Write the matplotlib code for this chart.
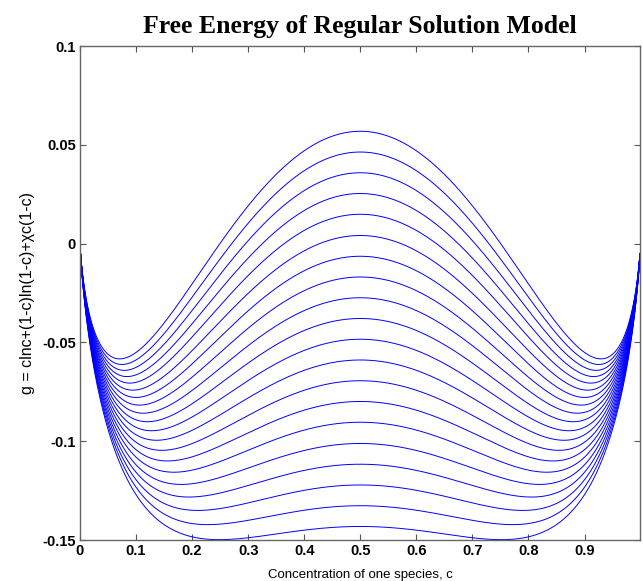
import numpy as np
import matplotlib
matplotlib.use("Agg")
import matplotlib.pyplot as plt

chi_values = [2.2, 2.242, 2.284, 2.326, 2.368, 2.411, 2.453, 2.495, 2.537, 2.579,
              2.621, 2.663, 2.705, 2.747, 2.789, 2.832, 2.874, 2.916, 2.958, 3.0]
c = np.arange(0.001, 0.9995, 0.001)

xticks = [0, 0.1, 0.2, 0.3, 0.4, 0.5, 0.6, 0.7, 0.8, 0.9]
xtick_labels = ["0", "0.1", "0.2", "0.3", "0.4", "0.5", "0.6", "0.7", "0.8", "0.9"]
yticks = [-0.15, -0.1, -0.05, 0, 0.05, 0.1]
ytick_labels = ["-0.15", "-0.1", "-0.05", "0", "0.05", "0.1"]

fig = plt.figure(figsize=(6.43, 5.81), dpi=100)
ax = fig.add_axes([80 / 643, 41 / 581, 560 / 643, 494 / 581])

for chi in chi_values:
    g = c * np.log(c) + (1 - c) * np.log(1 - c) + chi * c * (1 - c)
    ax.plot(c, g, color=(0, 0, 1), linewidth=0.7)

ax.set_xlim(0, 0.999)
ax.set_ylim(-0.15, 0.1)
ax.set_xticks(xticks)
ax.set_xticklabels(xtick_labels)
ax.set_yticks(yticks)
ax.set_yticklabels(ytick_labels)
ax.tick_params(direction="in", top=True, right=True, length=4, width=0.8,
               color="#555555", labelsize=10.5, pad=3)
for lab in ax.get_xticklabels() + ax.get_yticklabels():
    lab.set_fontfamily("Liberation Sans")
    lab.set_fontweight("bold")
for s in ax.spines.values():
    s.set_color("#666666")
    s.set_linewidth(1.0)

ax.set_title("Free Energy of Regular Solution Model", fontfamily="Liberation Serif",
             fontweight="bold", fontsize=18.5, pad=9)
ax.set_xlabel("Concentration of one species, c", fontfamily="Liberation Sans",
              fontsize=9.5, labelpad=8)
ax.set_ylabel("g = clnc+(1-c)ln(1-c)+\u03c7c(1-c)", fontfamily="Liberation Sans",
              fontsize=11.5, labelpad=5)

fig.savefig("out.png", dpi=100)
